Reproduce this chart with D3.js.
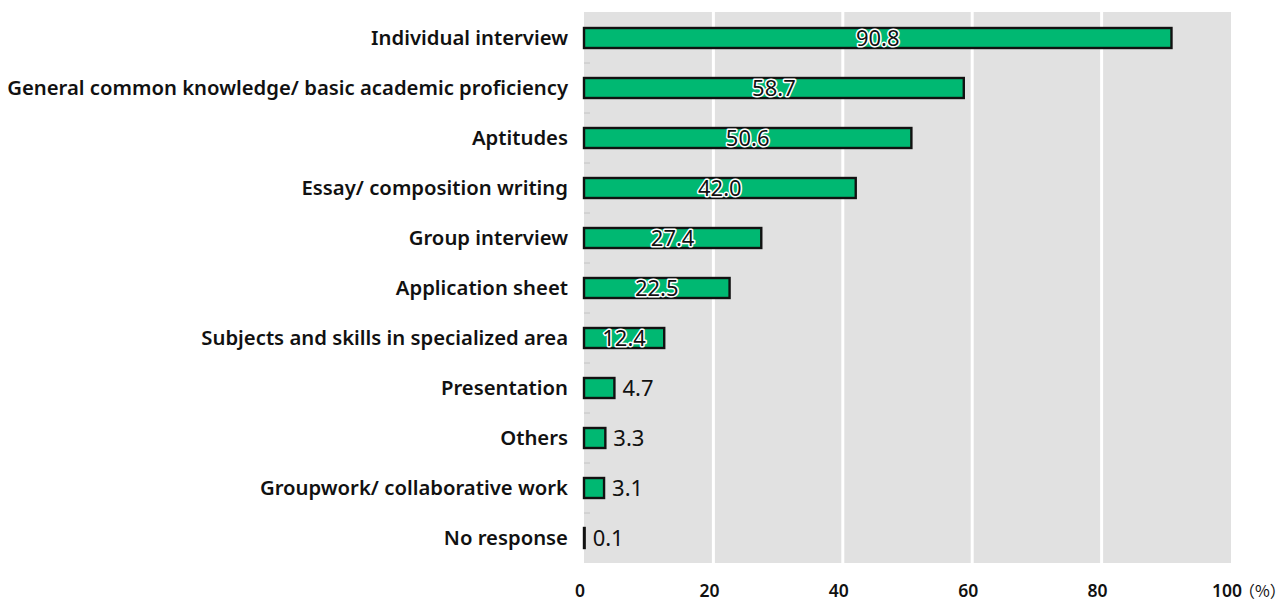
<!DOCTYPE html>
<html>
<head>
<meta charset="utf-8">
<script src="https://cdn.jsdelivr.net/npm/d3@7"></script>
<style>
  html, body { margin: 0; padding: 0; background: #ffffff; }
  svg { display: block; }
  text { font-family: "Noto Sans", "Open Sans", sans-serif; fill: #111; }
</style>
</head>
<body>
<svg id="chart" width="1285" height="601"></svg>
<script>
// Selection methods used (%)
const categories = [
  "Individual interview",
  "General common knowledge/ basic academic proficiency",
  "Aptitudes",
  "Essay/ composition writing",
  "Group interview",
  "Application sheet",
  "Subjects and skills in specialized area",
  "Presentation",
  "Others",
  "Groupwork/ collaborative work",
  "No response"
];
const values = [90.8, 58.7, 50.6, 42.0, 27.4, 22.5, 12.4, 4.7, 3.3, 3.1, 0.1];
const tickValues = [0, 20, 40, 60, 80, 100];
const tickLabels = ["0", "20", "40", "60", "80", "100"];
const unitLabel = "（%）";

const svg = d3.select("#chart");
const plot = { left: 584, right: 1231, top: 13, bottom: 563 };

const x = d3.scaleLinear().domain([0, 100]).range([plot.left, plot.right]);
const y = d3.scaleBand()
  .domain(categories)
  .range([plot.top, plot.bottom])
  .paddingInner(0.6)
  .paddingOuter(0.3);

// plot background
svg.append("rect")
  .attr("x", plot.left).attr("y", plot.top - 1)
  .attr("width", plot.right - plot.left)
  .attr("height", plot.bottom - plot.top + 1)
  .attr("fill", "#e1e1e1");

// vertical gridlines
svg.append("g")
  .selectAll("line")
  .data(tickValues.filter(v => v > 0 && v < 100))
  .join("line")
  .attr("x1", d => x(d)).attr("x2", d => x(d))
  .attr("y1", plot.top - 1).attr("y2", plot.bottom)
  .attr("stroke", "#ffffff")
  .attr("stroke-width", 3);

// short ticks between category bands
const step = y.step();
const boundaries = d3.range(1, categories.length).map(i => y(categories[i]) - y.paddingInner() * step / 2);
svg.append("g")
  .selectAll("line")
  .data(boundaries)
  .join("line")
  .attr("x1", plot.left).attr("x2", plot.left + 6)
  .attr("y1", d => d).attr("y2", d => d)
  .attr("stroke", "#c4c4c4")
  .attr("stroke-width", 1);

const rows = categories.map((c, i) => ({ cat: c, value: values[i] }));

// bars
svg.append("g")
  .selectAll("rect")
  .data(rows)
  .join("rect")
  .attr("x", x(0))
  .attr("y", d => y(d.cat))
  .attr("width", d => Math.max(0.5, x(d.value) - x(0)))
  .attr("height", y.bandwidth())
  .attr("fill", "#00b872")
  .attr("stroke", "#111")
  .attr("stroke-width", 2.4);

// category labels
svg.append("g")
  .selectAll("text")
  .data(rows)
  .join("text")
  .attr("x", plot.left - 16)
  .attr("y", d => y(d.cat) + y.bandwidth() / 2)
  .attr("dy", "0.35em")
  .attr("text-anchor", "end")
  .attr("font-size", 20.3)
  .attr("font-weight", 600)
  .text(d => d.cat);

// value labels: inside wide bars, beside narrow ones
const insideMin = 10;
svg.append("g")
  .selectAll("text")
  .data(rows)
  .join("text")
  .attr("x", d => d.value >= insideMin ? (x(0) + x(d.value)) / 2 : x(d.value) + 8)
  .attr("y", d => y(d.cat) + y.bandwidth() / 2)
  .attr("dy", "0.36em")
  .attr("text-anchor", d => d.value >= insideMin ? "middle" : "start")
  .attr("font-size", 22)
  .attr("stroke", d => d.value >= insideMin ? "#ffffff" : "none")
  .attr("stroke-width", 3)
  .attr("stroke-linejoin", "round")
  .attr("paint-order", "stroke")
  .text(d => d.value.toFixed(1));

// x axis tick labels
svg.append("g")
  .selectAll("text")
  .data(tickValues)
  .join("text")
  .attr("x", d => x(d) - 4)
  .attr("y", 591)
  .attr("dy", "0.35em")
  .attr("text-anchor", "middle")
  .attr("font-size", 17.5)
  .attr("font-weight", 600)
  .text((d, i) => tickLabels[i]);

svg.append("text")
  .attr("x", x(100) + 8)
  .attr("y", 591)
  .attr("dy", "0.35em")
  .attr("font-size", 16)
  .style("font-family", "'Noto Sans CJK JP', sans-serif")
  .text(unitLabel);
</script>
</body>
</html>
